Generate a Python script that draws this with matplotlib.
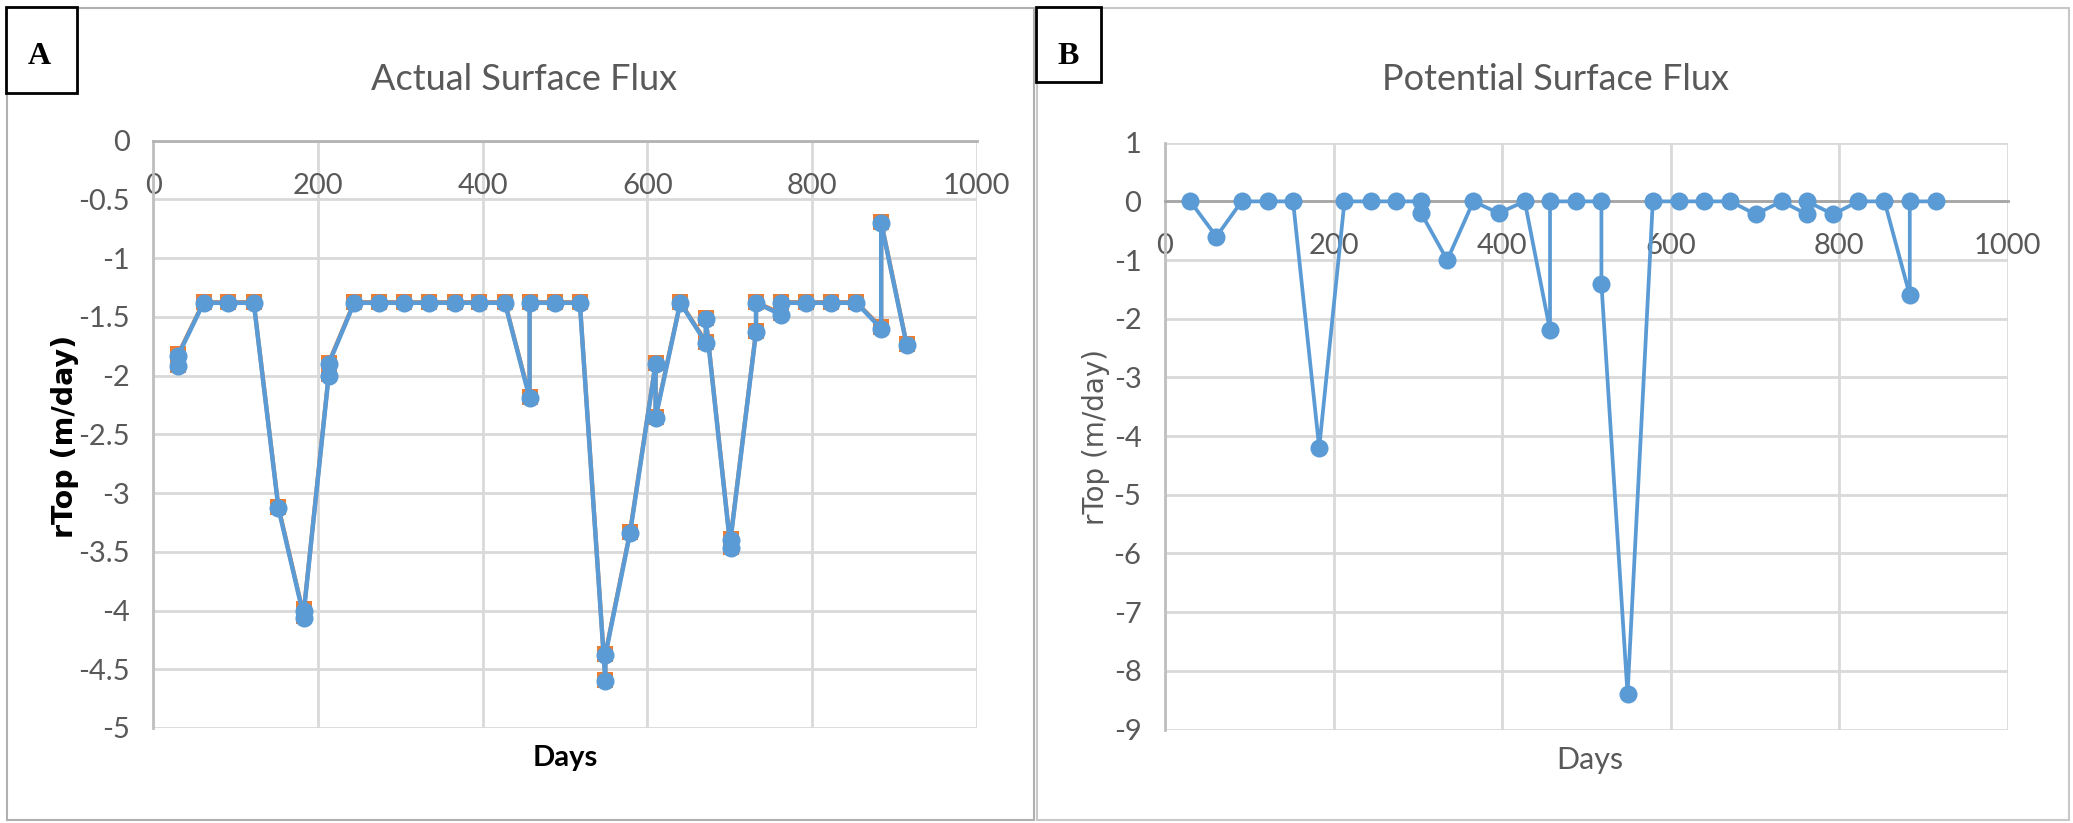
import matplotlib
matplotlib.use("Agg")
import matplotlib.pyplot as plt
from matplotlib.patches import Rectangle

# ---------------- data ----------------
days_a = [30, 30, 61, 91, 122, 152, 183, 183, 213, 213, 244, 274, 305, 335, 366, 396, 427,
          457, 457, 488, 518, 549, 549, 579, 610, 610, 640, 671, 671, 701, 701, 732, 732,
          762, 762, 793, 823, 854, 884, 884, 915]
actual_blue = [-1.92, -1.83, -1.38, -1.38, -1.38, -3.13, -4.06, -4.00, -2.00, -1.90, -1.38,
               -1.38, -1.38, -1.38, -1.38, -1.38, -1.38, -2.19, -1.38, -1.38, -1.38, -4.60,
               -4.38, -3.34, -1.90, -2.36, -1.38, -1.72, -1.52, -3.47, -3.40, -1.63, -1.38,
               -1.48, -1.38, -1.38, -1.38, -1.38, -1.60, -0.70, -1.74]
actual_orange = [-1.91, -1.82, -1.375, -1.375, -1.375, -3.12, -4.05, -3.99, -1.99, -1.89, -1.375,
                 -1.375, -1.375, -1.375, -1.375, -1.375, -1.375, -2.18, -1.375, -1.375, -1.375, -4.59,
                 -4.37, -3.33, -1.89, -2.35, -1.375, -1.71, -1.51, -3.46, -3.39, -1.62, -1.375,
                 -1.47, -1.375, -1.375, -1.375, -1.375, -1.59, -0.69, -1.735]

days_b = [30, 61, 91, 122, 152, 183, 213, 244, 274, 304, 304, 335, 366, 396, 427, 457, 457,
          488, 518, 518, 549, 579, 610, 640, 671, 701, 732, 762, 762, 793, 823, 854, 884,
          884, 915]
potential = [0, -0.6, 0, 0, 0, -4.2, 0, 0, 0, 0, -0.2, -1.0, 0, -0.2, 0, -2.2, 0, 0, 0,
             -1.4, -8.4, 0, 0, 0, 0, -0.22, 0, -0.22, 0, -0.22, 0, 0, -1.6, 0, 0]

xticks = [0, 200, 400, 600, 800, 1000]
yticks_a = [0, -0.5, -1, -1.5, -2, -2.5, -3, -3.5, -4, -4.5, -5]
yticks_a_labels = ["0", "-0.5", "-1", "-1.5", "-2", "-2.5", "-3", "-3.5", "-4", "-4.5", "-5"]
yticks_b = [1, 0, -1, -2, -3, -4, -5, -6, -7, -8, -9]

title_a = "Actual Surface Flux"
title_b = "Potential Surface Flux"
ylabel = "rTop (m/day)"
xlabel = "Days"

# ---------------- style ----------------
W, H = 2073, 823
BLUE = "#5b9bd5"
ORANGE = "#ed7d31"
GRID = "#d9d9d9"
AXIS = "#bfbfbf"
TXT = "#595959"
TICKFONT = ["Liberation Sans Narrow", "Lato", "DejaVu Sans"]
TITLEFONT = ["Lato", "DejaVu Sans"]

fig = plt.figure(figsize=(W / 100, H / 100), dpi=100)
fig.patch.set_facecolor("white")


def px_rect(x0, y0, x1, y1):
    """pixel box (top-left origin) -> figure fraction [l, b, w, h]"""
    return [x0 / W, 1 - y1 / H, (x1 - x0) / W, (y1 - y0) / H]


# panel frames
for (x0, y0, x1, y1), ec in [((7, 8, 1034, 820), "#b0b0b0"), ((1037, 8, 2069, 820), "#c8c8c8")]:
    l, b, w, h = px_rect(x0, y0, x1, y1)
    fig.add_artist(Rectangle((l, b), w, h, transform=fig.transFigure, fill=False,
                             edgecolor=ec, linewidth=1.5))


def style_axes(ax, ylim, yticks, ylabels):
    ax.set_xlim(0, 1000)
    ax.set_ylim(*ylim)
    ax.set_xticks(xticks)
    ax.set_yticks(yticks)
    ax.set_xticklabels([str(t) for t in xticks])
    ax.set_yticklabels(ylabels)
    ax.grid(True, color=GRID, linewidth=2.0)
    ax.set_axisbelow(True)
    for s in ["top", "right"]:
        ax.spines[s].set_visible(False)
    ax.spines["bottom"].set_position(("data", 0))
    ax.spines["bottom"].set_color("#b3b3b3")
    ax.spines["bottom"].set_linewidth(2.0)
    ax.spines["left"].set_color(AXIS)
    ax.spines["left"].set_linewidth(2.0)
    ax.tick_params(axis="both", length=0, colors=TXT)
    ax.tick_params(axis="y", pad=17)
    ax.tick_params(axis="x", pad=23)
    for lab in ax.get_xticklabels() + ax.get_yticklabels():
        lab.set_fontfamily(TICKFONT)
        lab.set_fontsize(21)
        lab.set_color(TXT)


# ---------------- panel A ----------------
axA = fig.add_axes(px_rect(153.3, 140.7, 976.7, 728.0))
style_axes(axA, (-5, 0), yticks_a, yticks_a_labels)
axA.plot(days_a, actual_orange, color=ORANGE, linewidth=3.0, marker="s", markersize=11.5,
         markeredgewidth=0, zorder=3)
axA.plot(days_a, actual_blue, color=BLUE, linewidth=3.2, marker="o", markersize=13,
         markeredgewidth=0, zorder=4)

# ---------------- panel B ----------------
axB = fig.add_axes(px_rect(1165, 142.7, 2007.5, 729.5))
style_axes(axB, (-9, 1), yticks_b, [str(t) for t in yticks_b])
axB.spines["bottom"].set_color("#a6a6a6")
axB.plot(days_b, potential, color=BLUE, linewidth=2.7, marker="o", markersize=13,
         markeredgewidth=0, zorder=4)

# ---------------- texts ----------------
fig.text(524 / W, 1 - 80 / H, title_a, ha="center", va="center", fontsize=26,
         color=TXT, family=TITLEFONT)
fig.text(1556 / W, 1 - 80 / H, title_b, ha="center", va="center", fontsize=26,
         color=TXT, family=TITLEFONT)

fig.text(65 / W, 1 - 436 / H, ylabel, rotation=90, ha="center", va="center",
         fontsize=20.5, fontweight="bold", color="black", family="DejaVu Sans")
fig.text(1096 / W, 1 - 437 / H, ylabel, rotation=90, ha="center", va="center",
         fontsize=20, color=TXT, family="DejaVu Sans")

fig.text(565 / W, 1 - 758 / H, xlabel, ha="center", va="center", fontsize=21,
         fontweight="bold", color="black", family=TICKFONT)
fig.text(1590 / W, 1 - 760 / H, xlabel, ha="center", va="center", fontsize=22,
         color=TXT, family=TICKFONT)

# panel letter boxes
for (x0, y0, x1, y1), letter, cx in [((6, 7, 77, 93), "A", 39), ((1036, 7, 1101, 82), "B", 1068)]:
    l, b, w, h = px_rect(x0, y0, x1, y1)
    fig.add_artist(Rectangle((l, b), w, h, transform=fig.transFigure, facecolor="white",
                             edgecolor="black", linewidth=2.0, zorder=10))
    fig.text(cx / W, 1 - 56 / H, letter, ha="center", va="center", fontsize=23,
             fontweight="bold", family=["Liberation Serif", "DejaVu Serif"], zorder=11)

fig.savefig("out.png", dpi=100, facecolor="white")
